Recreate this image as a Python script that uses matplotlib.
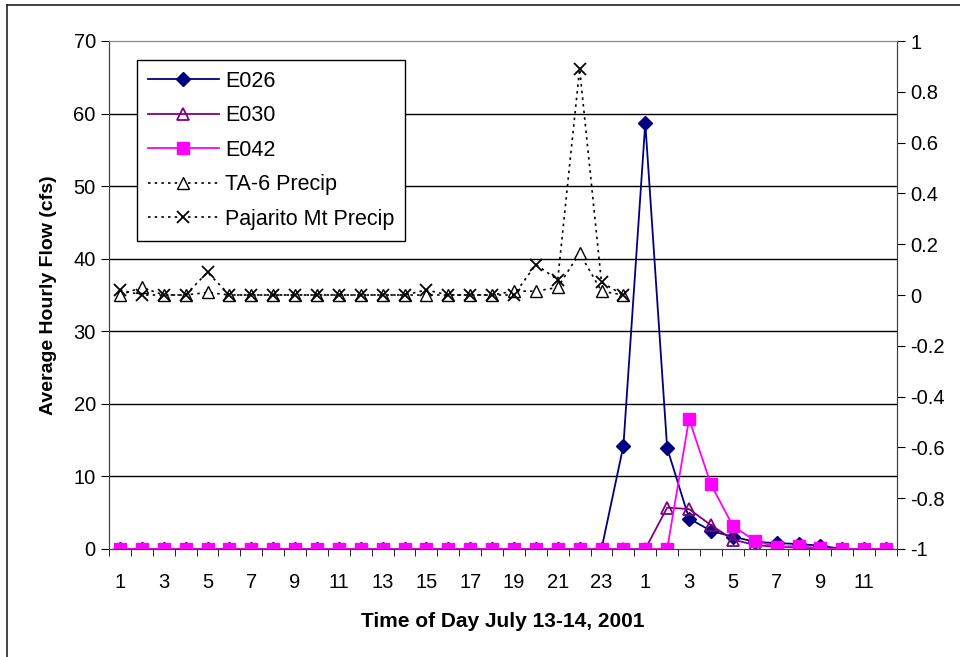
import numpy as np
import matplotlib.pyplot as plt
from matplotlib.lines import Line2D

plt.rcParams['font.family'] = ['Liberation Sans', 'DejaVu Sans']

# categories: hours 1-24 of July 13, then 1-12 of July 14
hours = list(range(1, 25)) + list(range(1, 13))
x = np.arange(1, len(hours) + 1)

# flow (cfs), left axis
e026 = [0]*23 + [14.2, 58.7, 13.9, 4.2, 2.5, 1.7, 1.0, 0.8, 0.7, 0.45, 0, 0, 0]
e030 = [0]*25 + [5.7, 5.5, 3.3, 1.3, 0.55, 0.3, 0.2, 0.1, 0, 0, 0]
e042 = [0]*26 + [17.9, 8.9, 3.2, 1.15, 0.3, 0.45, 0.1, 0, 0, 0]

# precipitation, right axis (hours 1-24 only)
ta6 = [0, 0.03, 0, 0, 0.01, 0, 0, 0, 0, 0, 0, 0, 0, 0, 0, 0, 0, 0,
       0.015, 0.015, 0.03, 0.165, 0.015, 0]
pajarito = [0.02, 0, 0, 0, 0.09, 0, 0, 0, 0, 0, 0, 0, 0, 0, 0.02, 0, 0, 0,
            0, 0.12, 0.06, 0.89, 0.05, 0]

fig = plt.figure(figsize=(9.6, 6.57), dpi=100)
ax = fig.add_axes([109/960, 1 - 549/657, (897-109)/960, (549-41)/657])
ax2 = ax.twinx()

dots = (0, (1.5, 2.5))

# precip on right axis
xp = x[:24]
ax2.plot(xp, ta6, color='black', linestyle=dots, linewidth=1.2,
         marker='^', markersize=8, markerfacecolor='white', markeredgecolor='black')
ax2.plot(xp, pajarito, color='black', linestyle=dots, linewidth=1.2,
         marker='x', markersize=9, markeredgewidth=1.3)
ax2.set_ylim(-1, 1)
ax2.set_yticks(np.arange(-1, 1.01, 0.2))
ax2.set_yticklabels(['-1', '-0.8', '-0.6', '-0.4', '-0.2', '0', '0.2', '0.4', '0.6', '0.8', '1'])

# gridlines at left-axis 10s, drawn behind everything
for yv in range(10, 70, 10):
    ax2.axhline(-1 + yv * 2 / 70, color='black', linewidth=1, zorder=0)

# flows on left axis
ax.set_zorder(ax2.get_zorder() + 1)
ax.patch.set_visible(False)
ax.plot(x, e026, color='#000080', linewidth=1.3, marker='D', markersize=7)
ax.plot(x, e030, color='#800080', linewidth=1.3, marker='^', markersize=9,
        markerfacecolor='none', markeredgecolor='#800080', markeredgewidth=1.3)
ax.plot(x, e042, color='#FF00FF', linewidth=1.3, marker='s', markersize=8)

ax.set_xlim(0.5, 36.5)
ax.set_ylim(0, 70)
ax.set_yticks(range(0, 71, 10))

ax.set_xticks(x[::2])
ax.set_xticklabels([str(h) for h in hours[::2]])
ax.set_xticks(np.arange(0.5, 37, 1), minor=True)
ax.tick_params(axis='x', which='major', length=0, pad=17)
ax.tick_params(axis='x', which='minor', length=5, direction='out')
for a in (ax, ax2):
    a.tick_params(axis='y', length=6, direction='out', labelsize=14.5)
    a.tick_params(axis='x', labelsize=14.5)
    for s in a.spines.values():
        s.set_color('#404040')
    a.spines['top'].set_color('#888888')

ax.set_xlabel('Time of Day July 13-14, 2001', fontsize=15, fontweight='bold', labelpad=15)
ax.set_ylabel('Average Hourly Flow (cfs)', fontsize=14, fontweight='bold', labelpad=12)

handles = [
    Line2D([], [], color='#000080', linewidth=1.3, marker='D', markersize=7),
    Line2D([], [], color='#800080', linewidth=1.3, marker='^', markersize=9,
           markerfacecolor='none', markeredgewidth=1.3),
    Line2D([], [], color='#FF00FF', linewidth=1.3, marker='s', markersize=8),
    Line2D([], [], color='black', linestyle=dots, linewidth=1.2,
           marker='^', markersize=8, markerfacecolor='white'),
    Line2D([], [], color='black', linestyle=dots, linewidth=1.2,
           marker='x', markersize=9, markeredgewidth=1.3),
]
labels = ['E026', 'E030', 'E042', 'TA-6 Precip', 'Pajarito Mt Precip']
leg = ax.legend(handles, labels, loc='upper left', bbox_to_anchor=(28/788, 1 - 19/508),
                borderaxespad=0, fontsize=15.5, handlelength=3.3, labelspacing=0.63,
                fancybox=False, framealpha=1, edgecolor='black', borderpad=0.5,
                handletextpad=0.3)
leg.get_frame().set_linewidth(1)

# chart-area border (top and left visible)
fig.add_artist(Line2D([7/960, 1], [1 - 5/657, 1 - 5/657], color='#222222', linewidth=1.2))
fig.add_artist(Line2D([7/960, 7/960], [0, 1 - 5/657], color='#222222', linewidth=1.2))

fig.savefig('out.png', dpi=100)
